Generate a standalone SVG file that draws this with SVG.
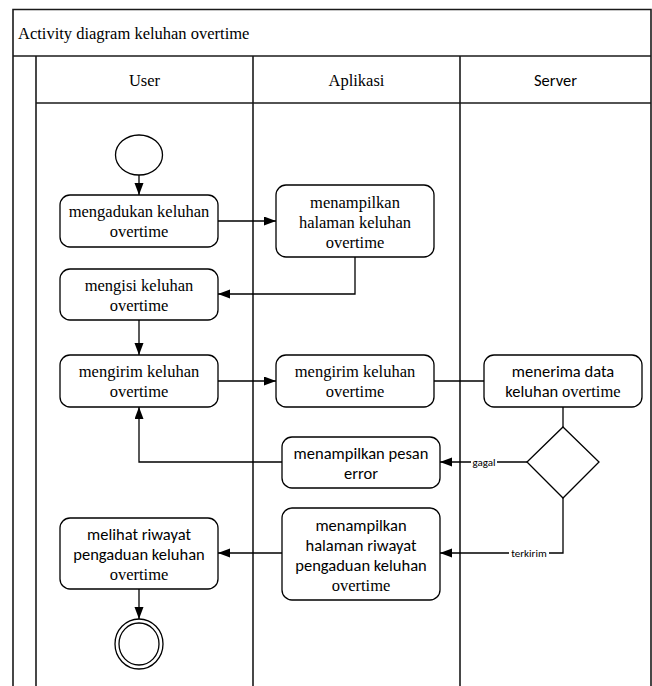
<svg xmlns="http://www.w3.org/2000/svg" width="652" height="686" viewBox="0 0 652 686">
  <style>
    .pool { fill: none; stroke: #1a1a1a; stroke-width: 1.6; }
    .node { fill: #ffffff; stroke: #000000; stroke-width: 1.3; }
    .edge { fill: none; stroke: #000000; stroke-width: 1.3; }
    .serif { font-family: "Liberation Serif", "Times New Roman", serif; font-size: 16.5px; fill: #000; }
    .sans { font-family: Carlito, Calibri, Lato, sans-serif; font-size: 16.5px; fill: #000; }
    .lbl { font-family: Carlito, Calibri, Lato, sans-serif; font-size: 11px; fill: #000; }
    text { text-anchor: middle; }
  </style>
  <defs>
    <marker id="arrow" markerUnits="userSpaceOnUse" markerWidth="13" markerHeight="10" refX="12" refY="4.5" orient="auto">
      <path d="M0,0 L12,4.5 L0,9 Z" fill="#000"/>
    </marker>
  </defs>

  <!-- pool and swimlanes -->
  <g id="pool">
    <rect x="0" y="0" width="652" height="686" fill="#ffffff"/>
    <path class="pool" d="M13,686 L13,9.5 L651,9.5 L651,686"/>
    <line class="pool" x1="13" y1="56" x2="651" y2="56"/>
    <line class="pool" x1="36" y1="56" x2="36" y2="686"/>
    <line class="pool" x1="36" y1="103" x2="651" y2="103"/>
    <line class="pool" x1="253" y1="56" x2="253" y2="686"/>
    <line class="pool" x1="460" y1="56" x2="460" y2="686"/>
    <text class="serif" x="18" y="39" style="text-anchor:start">Activity diagram keluhan overtime</text>
    <text class="serif" x="144.5" y="86">User</text>
    <text class="serif" x="356.5" y="86">Aplikasi</text>
    <text class="sans" x="555.5" y="86">Server</text>
  </g>

  <!-- connectors -->
  <g id="connectors">
    <path class="edge" d="M139,175 L139,195" marker-end="url(#arrow)"/>
    <path class="edge" d="M218,221 L276,221" marker-end="url(#arrow)"/>
    <path class="edge" d="M355,257 L355,294 L218,294" marker-end="url(#arrow)"/>
    <path class="edge" d="M139,320 L139,355" marker-end="url(#arrow)"/>
    <path class="edge" d="M218,381 L276,381" marker-end="url(#arrow)"/>
    <path class="edge" d="M434,381 L484,381"/>
    <path class="edge" d="M563,407 L563,427"/>
    <path class="edge" d="M527,462 L440,462" marker-end="url(#arrow)"/>
    <path class="edge" d="M282,462 L139,462 L139,407" marker-end="url(#arrow)"/>
    <path class="edge" d="M563,498 L563,553 L440,553" marker-end="url(#arrow)"/>
    <path class="edge" d="M282,553 L218,553" marker-end="url(#arrow)"/>
    <path class="edge" d="M139,589 L139,619" marker-end="url(#arrow)"/>
    <rect x="471" y="456" width="26" height="12" fill="#fff"/>
    <text class="lbl" x="484" y="466">gagal</text>
    <rect x="509" y="547" width="40" height="12" fill="#fff"/>
    <text class="lbl" x="529" y="557">terkirim</text>
  </g>

  <g id="start">
    <ellipse class="node" cx="139" cy="155" rx="23.5" ry="20"/>
  </g>

  <g id="mengadukan">
    <rect class="node" x="60" y="195" width="158" height="52" rx="10"/>
    <text class="serif" x="139" y="217">mengadukan keluhan</text>
    <text class="serif" x="139" y="237">overtime</text>
  </g>

  <g id="tampil-halaman">
    <rect class="node" x="276" y="185" width="158" height="72" rx="10"/>
    <text class="serif" x="355" y="207.5">menampilkan</text>
    <text class="serif" x="355" y="227.5">halaman keluhan</text>
    <text class="serif" x="355" y="247.5">overtime</text>
  </g>

  <g id="mengisi">
    <rect class="node" x="60" y="269" width="158" height="51" rx="10"/>
    <text class="serif" x="139" y="290.5">mengisi keluhan</text>
    <text class="serif" x="139" y="310.5">overtime</text>
  </g>

  <g id="kirim-user">
    <rect class="node" x="60" y="355" width="158" height="52" rx="10"/>
    <text class="serif" x="139" y="377">mengirim keluhan</text>
    <text class="serif" x="139" y="397">overtime</text>
  </g>

  <g id="kirim-aplikasi">
    <rect class="node" x="276" y="355" width="158" height="52" rx="10"/>
    <text class="serif" x="355" y="377">mengirim keluhan</text>
    <text class="serif" x="355" y="397">overtime</text>
  </g>

  <g id="terima-data">
    <rect class="node" x="484" y="355" width="158" height="52" rx="10"/>
    <text class="sans" x="563" y="377">menerima data</text>
    <text x="563" y="397"><tspan class="sans">keluhan </tspan><tspan class="serif">overtime</tspan></text>
  </g>

  <g id="keputusan">
    <path class="node" d="M563,427 L599,462 L563,498 L527,462 Z"/>
  </g>

  <g id="pesan-error">
    <rect class="node" x="282" y="437" width="158" height="51" rx="10"/>
    <text class="sans" x="361" y="458.5">menampilkan pesan</text>
    <text class="sans" x="361" y="478.5">error</text>
  </g>

  <g id="tampil-riwayat">
    <rect class="node" x="282" y="508" width="158" height="92" rx="10"/>
    <text class="sans" x="361" y="530.5">menampilkan</text>
    <text class="sans" x="361" y="550.5">halaman riwayat</text>
    <text class="sans" x="361" y="570.5">pengaduan keluhan</text>
    <text class="serif" x="361" y="590.5">overtime</text>
  </g>

  <g id="lihat-riwayat">
    <rect class="node" x="60" y="518" width="158" height="71" rx="10"/>
    <text class="sans" x="139" y="540">melihat riwayat</text>
    <text class="sans" x="139" y="560">pengaduan keluhan</text>
    <text class="serif" x="139" y="580">overtime</text>
  </g>

  <g id="end">
    <ellipse class="node" cx="139" cy="644" rx="24" ry="25"/>
    <ellipse class="node" cx="139" cy="644" rx="20" ry="21"/>
  </g>
</svg>
